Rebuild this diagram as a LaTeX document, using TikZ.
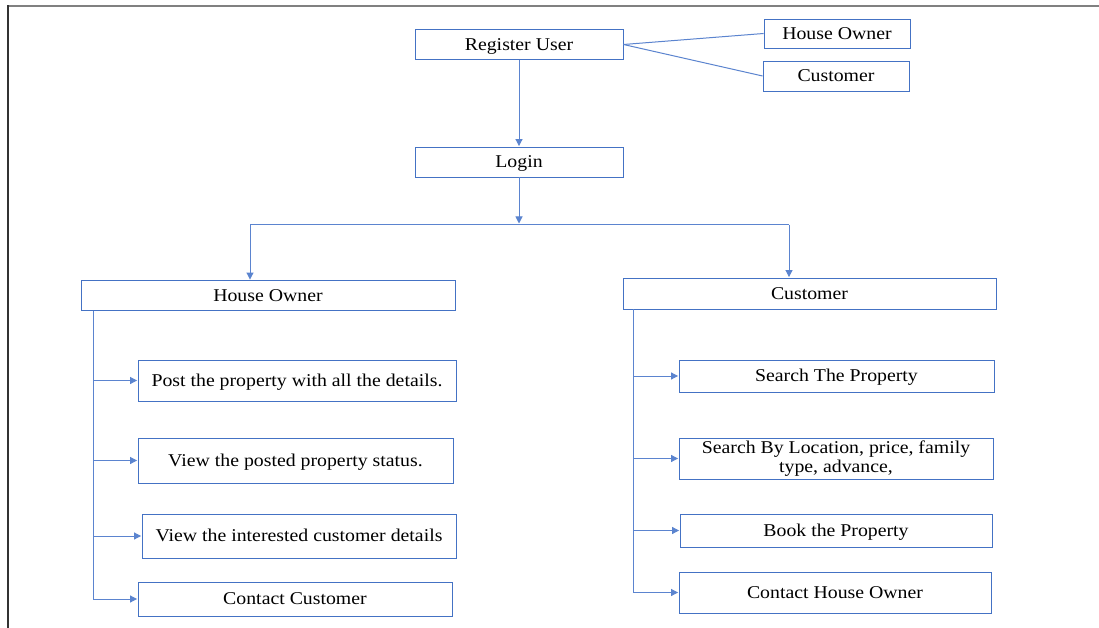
\documentclass[tikz,border=0pt]{standalone}
\usepackage{fontspec}
\setmainfont{Liberation Serif}[FakeStretch=1.1]
\usetikzlibrary{arrows.meta}
\definecolor{boxblue}{HTML}{4472C4}
\definecolor{lineblue}{HTML}{5B84CF}
\begin{document}
\begin{tikzpicture}[x=1pt,y=-1pt,
  box/.style={draw=boxblue, line width=0.9pt, rectangle, inner sep=1pt, align=center,
    font=\fontsize{18}{19}\selectfont, text=black},
  one/.style={text height=11.9pt, text depth=0pt},
  link/.style={draw=lineblue, line width=1pt},
  arr/.style={link, -{Triangle[length=7pt,width=7pt]}, shorten >=0.5pt}]
\useasboundingbox (0,0) rectangle (1099,628);
\fill[white] (0,0) rectangle (1099,628);
% frame
\draw[line width=2pt, color=gray] (8,6.5) -- (1099,6.5);
\draw[line width=1.5pt, color=black!80] (8,5.5) -- (8,628);
% top
\node[box, one, minimum width=208pt, minimum height=30pt] (reg) at (519,44.5) {Register User};
\node[box, one, minimum width=146pt, minimum height=29pt] (ho1) at (837,33.5) {House Owner};
\node[box, one, minimum width=146pt, minimum height=30pt] (cu1) at (836,76) {Customer};
\node[box, one, minimum width=208pt, minimum height=30pt] (login) at (519,162) {Login};
\draw[link] (reg.east) -- (ho1.west);
\draw[link] (reg.east) -- (cu1.west);
\draw[arr] (reg.south) -- (login.north);
\coordinate (j) at (519,224);
\coordinate (jl) at (250,225);
\coordinate (jr) at (789,225);
\draw[arr] (login.south) -- (j);
\draw[link] (jl) -- (jr);
% branches
\node[box, one, minimum width=374pt, minimum height=30pt] (hoB) at (268,295.5) {House Owner};
\node[box, one, minimum width=373pt, minimum height=31pt] (cuB) at (809.5,293.5) {Customer};
\draw[arr] (jl) -- (jl |- hoB.north);
\draw[arr] (jr) -- (jr |- cuB.north);
% left children
\node[box, one, minimum width=318pt, minimum height=41pt] (p1) at (297,380.5) {Post the property with all the details.};
\node[box, one, minimum width=315pt, minimum height=45pt] (p2) at (295.5,460.5) {View the posted property status.};
\node[box, one, minimum width=314pt, minimum height=44pt] (p3) at (299,536) {View the interested customer details};
\node[box, one, minimum width=314pt, minimum height=34pt] (p4) at (295,599) {Contact Customer};
\coordinate (lv) at (93,311);
\draw[link] (lv) -- (lv |- p4.west);
\foreach \n in {p1,p2,p3,p4} \draw[arr] (lv |- \n.west) -- (\n.west);
% right children
\node[box, one, minimum width=315pt, minimum height=32pt] (c1) at (836.5,376) {Search The Property};
\node[box, minimum width=314pt, minimum height=41pt] (c2) at (836,458.5) {Search By Location, price, family\\type, advance,};
\node[box, one, minimum width=312pt, minimum height=33pt] (c3) at (836,530.5) {Book the Property};
\node[box, one, minimum width=312pt, minimum height=41pt] (c4) at (835,592.5) {Contact House Owner};
\coordinate (rv) at (633,309);
\draw[link] (rv) -- (rv |- c4.west);
\foreach \n in {c1,c2,c3,c4} \draw[arr] (rv |- \n.west) -- (\n.west);
\end{tikzpicture}
\end{document}
